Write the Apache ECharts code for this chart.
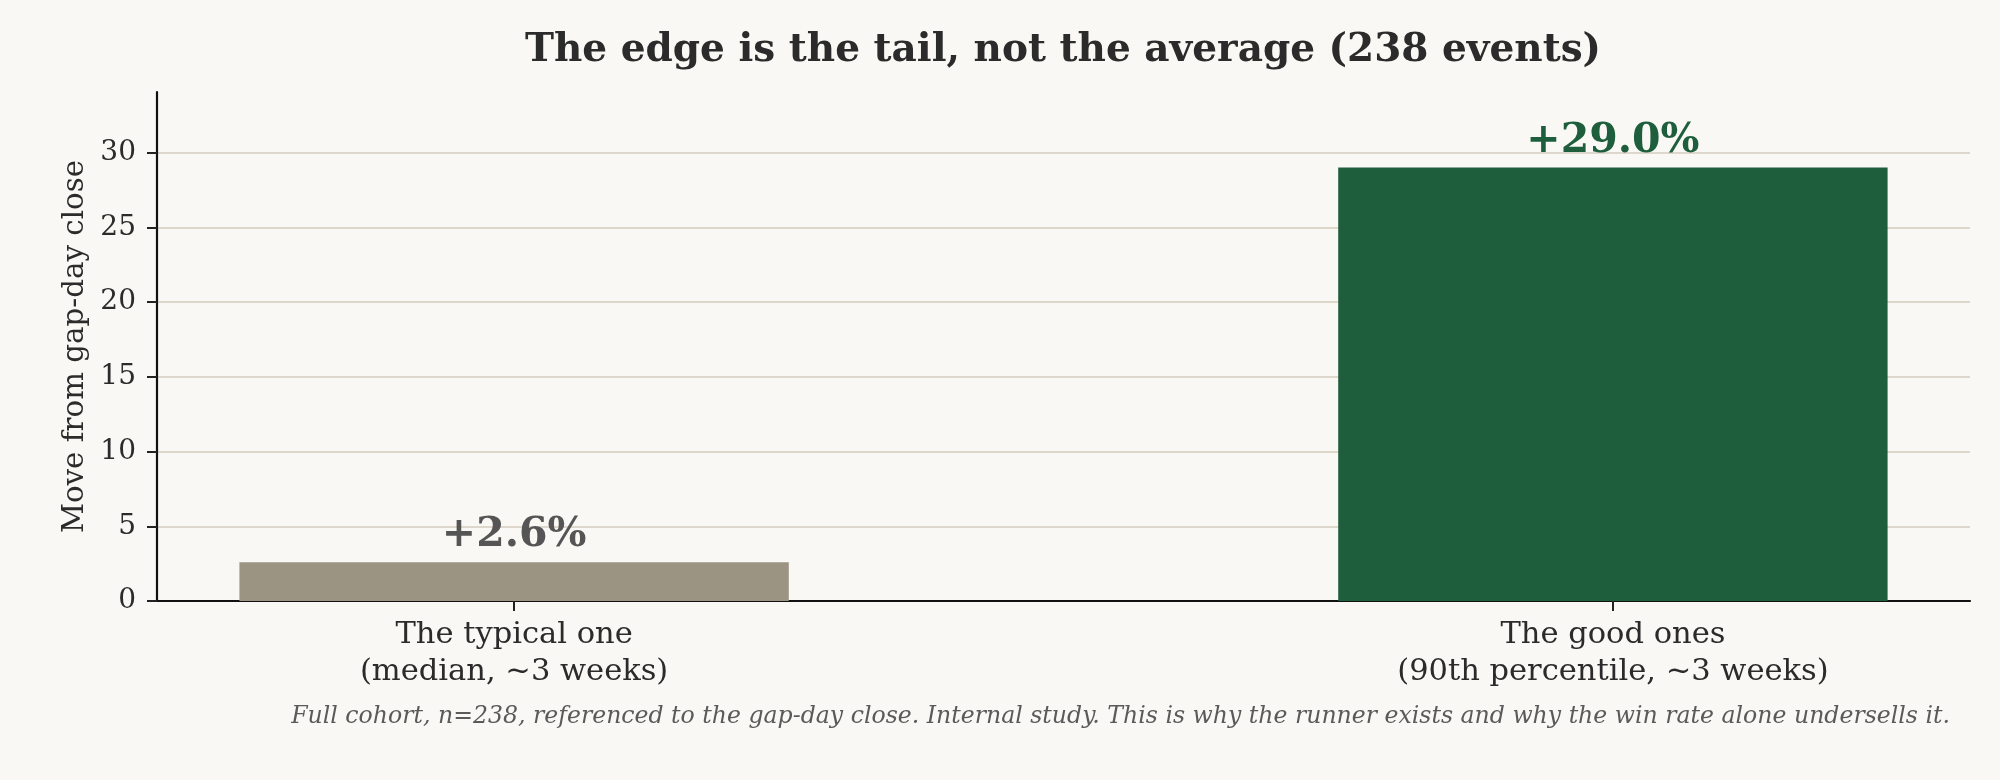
<!DOCTYPE html>
<html>
<head>
<meta charset="utf-8">
<style>
  html, body { margin: 0; padding: 0; background: #f9f8f4; }
  #chart { width: 2000px; height: 780px; }
</style>
<script src="https://cdn.jsdelivr.net/npm/echarts@6/dist/echarts.min.js"></script>
</head>
<body>
<div id="chart"></div>
<script>
// ---- data ----
const categories = ['The typical one\n(median, ~3 weeks)', 'The good ones\n(90th percentile, ~3 weeks)'];
const values = [2.6, 29.0];
const yTicks = [0, 5, 10, 15, 20, 25, 30];
const titleText = 'The edge is the tail, not the average (238 events)';
const yAxisName = 'Move from gap-day close';
const captionText = 'Full cohort, n=238, referenced to the gap-day close. Internal study. This is why the runner exists and why the win rate alone undersells it.';

// ---- styles ----
const barColors = ['#9c9483', '#1e5e3c'];
const labelColors = ['#555555', '#1e5e3c'];
const FONT = '"DejaVu Serif", serif';

const chart = echarts.init(document.getElementById('chart'), null, { renderer: 'canvas' });

const seriesData = values.map((v, i) => ({
  value: [i, v],
  itemStyle: { color: barColors[i] },
  label: { color: labelColors[i] }
}));

chart.setOption({
  backgroundColor: '#f9f8f4',
  animation: false,
  grid: { left: 157, right: 30, top: 92, bottom: 179, containLabel: false },
  xAxis: {
    type: 'value',
    min: -0.325,
    max: 1.325,
    splitLine: { show: false },
    axisLine: { show: true, onZero: false, lineStyle: { color: '#111111', width: 2.2 } },
    axisTick: { show: true, length: 10, lineStyle: { color: '#222222', width: 2 }, customValues: [0, 1] },
    axisLabel: {
      show: true,
      customValues: [0, 1],
      formatter: (v) => categories[Math.round(v)] || '',
      fontFamily: FONT,
      fontSize: 30.5,
      lineHeight: 36.5,
      color: '#2b2b2b',
      margin: 16
    }
  },
  yAxis: {
    type: 'value',
    min: 0,
    max: 34.06,
    name: yAxisName,
    nameLocation: 'middle',
    nameGap: 67,
    nameMoveOverlap: false,
    nameTextStyle: { fontFamily: FONT, fontSize: 29.3, lineHeight: 29, color: '#2b2b2b' },
    axisLine: { show: true, onZero: false, lineStyle: { color: '#111111', width: 2.2 } },
    axisTick: { show: true, length: 10, lineStyle: { color: '#222222', width: 2 }, customValues: yTicks },
    axisLabel: {
      customValues: yTicks,
      fontFamily: FONT,
      fontSize: 28,
      color: '#2b2b2b',
      margin: 21
    },
    splitLine: { show: true, lineStyle: { color: '#ddd8cb', width: 1.8 } }
  },
  series: [{
    type: 'bar',
    data: seriesData,
    barWidth: '50%',
    label: {
      show: true,
      position: 'top',
      distance: 6,
      fontFamily: FONT,
      fontWeight: 'bold',
      fontSize: 41,
      lineHeight: 41,
      formatter: (p) => '+' + p.value[1].toFixed(1) + '%'
    }
  }],
  graphic: [
    {
      type: 'text',
      x: 1063,
      y: 51,
      style: {
        text: titleText,
        fontFamily: FONT,
        fontWeight: 'bold',
        fontSize: 39,
        fill: '#2b2b2b',
        textAlign: 'center',
        textVerticalAlign: 'middle'
      }
    },
    {
      type: 'text',
      x: 1950,
      y: 717,
      style: {
        text: captionText,
        fontFamily: FONT,
        fontStyle: 'italic',
        fontSize: 23.6,
        fill: '#5a5a5a',
        textAlign: 'right',
        textVerticalAlign: 'middle'
      }
    }
  ]
});
</script>
</body>
</html>
